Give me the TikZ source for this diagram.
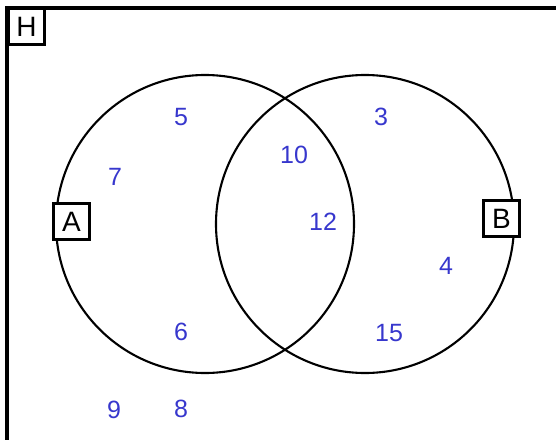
\documentclass[tikz,border=0pt]{standalone}
\usepackage{fontspec}
\setmainfont{Liberation Sans}
\definecolor{numblue}{RGB}{55,55,205}

\begin{document}
\begin{tikzpicture}[x=1pt, y=-1pt,
    setline/.style={draw, circle, line width=2.1pt, minimum size=298pt, inner sep=0pt},
    setlabel/.style={draw, line width=2.6pt, minimum width=36pt, minimum height=36pt, inner sep=0pt, font=\fontsize{28}{28}\selectfont},
    elem/.style={text=numblue, inner sep=0pt, font=\fontsize{25}{25}\selectfont}]
    % Rahmen
    \useasboundingbox (0,0) rectangle (556,439);
    \draw[line width=3.4pt] (7,8) rectangle (566,449);

    % Mengen A und B
    \node[setline] (setA) at (205,224) {};
    \node[setline] (setB) at (365,224) {};

    % Beschriftungen
    \node[setlabel, fill=white] (labH) at (26.5,26.5) {H};
    \node[setlabel, fill=white] (labA) at (71.5,221.5) {A};
    \node[setlabel, fill=white] (labB) at (501.5,218.5) {B};

    % Elemente
    \node[elem] (e5) at (181,117) {5};
    \node[elem] (e7) at (115,177) {7};
    \node[elem] (e6) at (181,332) {6};
    \node[elem] (e10) at (294,155) {10};
    \node[elem] (e12) at (323,222) {12};
    \node[elem] (e3) at (381,117) {3};
    \node[elem] (e4) at (446,266) {4};
    \node[elem] (e15) at (389,333) {15};
    \node[elem] (e9) at (114,410) {9};
    \node[elem] (e8) at (181,409) {8};
\end{tikzpicture}
\end{document}
